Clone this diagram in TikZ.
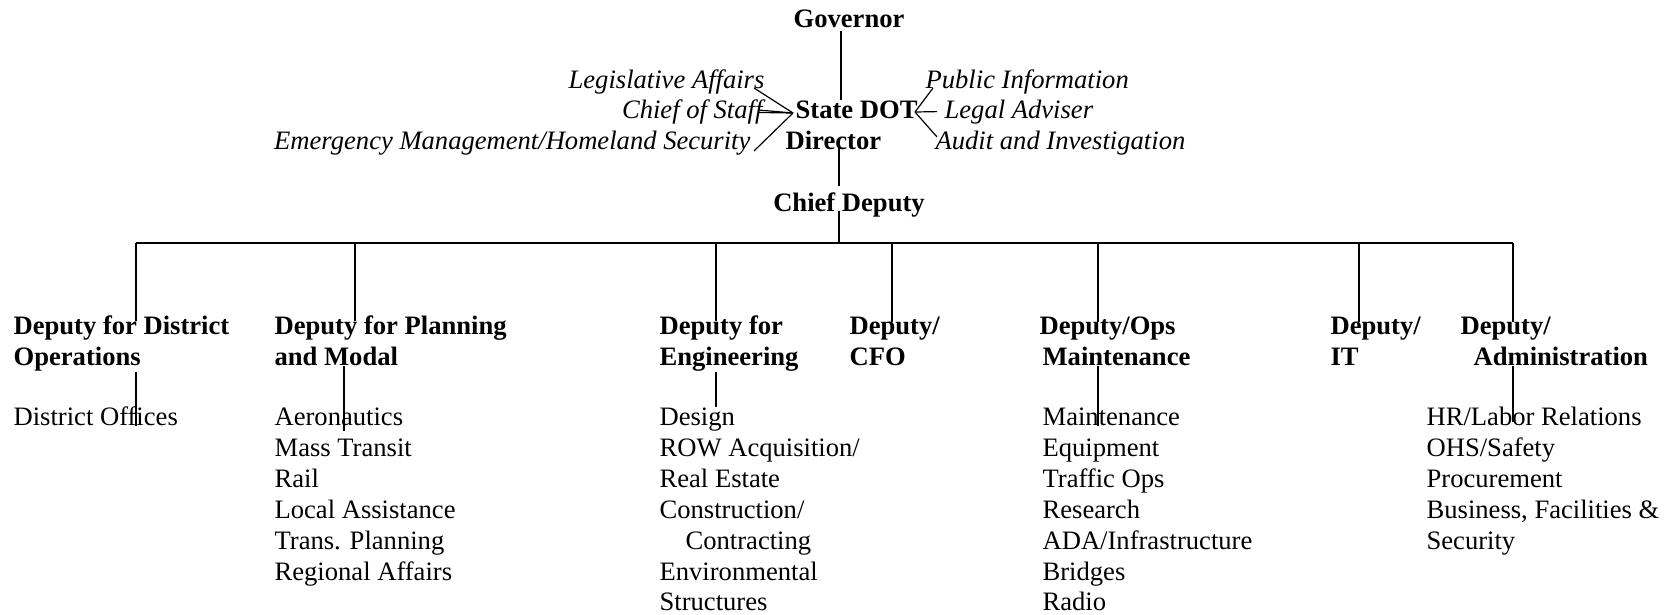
\documentclass[tikz,border=0pt]{standalone}
\usepackage{fontspec}
\setmainfont{Liberation Serif}
\newcommand{\chartfont}{\fontsize{26.6pt}{30.9pt}\selectfont}
\tikzstyle{head}=[font=\chartfont\bfseries,inner sep=0pt]
\tikzstyle{staff}=[font=\chartfont\itshape,inner sep=0pt]
\tikzstyle{deputy}=[font=\chartfont\bfseries,inner sep=0pt,align=left,anchor=base west]
\tikzstyle{unit}=[font=\chartfont,inner sep=0pt,align=left,anchor=base west]

\begin{document}
\begin{tikzpicture}[x=1pt,y=-1pt,line width=1.2pt]
			\useasboundingbox (0,0) rectangle (1671,614);
			% the director and his staff
			\node[head,anchor=base] (gov) at (849,27.5) {Governor};
			\node[head,anchor=base west] (dot) at (795,118) {State DOT};
			\node[head,anchor=base west] (dir) at (785,149) {Director};
			\node[head,anchor=base] (cdep) at (849,211) {Chief Deputy};
			\node[staff,anchor=base east] (leg) at (765,88) {Legislative Affairs};
			\node[staff,anchor=base east] (cos) at (763,118) {Chief of Staff};
			\node[staff,anchor=base east] (emg) at (751,149) {Emergency Management/Homeland Security};
			\node[staff,anchor=base west] (pub) at (925,88) {Public Information};
			\node[staff,anchor=base west] (lgl) at (944,118) {Legal Adviser};
			\node[staff,anchor=base west] (aud) at (935,149) {Audit and Investigation};
			\coordinate (lc) at (793,113);
			\coordinate (rc) at (915,112);
			\coordinate (cd) at (839,243);
			\draw[shorten <=3pt] ([xshift=-8pt]gov.south) -- ([xshift=-8pt]gov.south |- dot.north);
			\draw ([xshift=-11pt]leg.base east) -- (lc);
			\draw ([xshift=-5pt,yshift=1.5pt]cos.east) -- (lc);
			\draw ([xshift=-5pt,yshift=-1pt]cos.east) -- (lc);
			\draw ([xshift=3pt,yshift=-2pt]emg.base east) -- (lc);
			\draw ([xshift=8pt]pub.base west) -- (rc);
			\draw ([xshift=-7pt]lgl.west) -- (rc);
			\draw ([xshift=2pt,yshift=-7pt]aud.north west) -- (rc);
			\draw[shorten <=-6pt,shorten >=6pt] (dir.south -| cd) -- (cdep.north -| cd);
			\draw (cdep.base -| cd) -- (cd);
			% the deputies (base = last line)
			\coordinate (b1) at (136,243);
			\coordinate (b2) at (355,243);
			\coordinate (b3) at (716,243);
			\coordinate (b4) at (892,243);
			\coordinate (b5) at (1098,243);
			\coordinate (b6) at (1359,243);
			\coordinate (b7) at (1513,243);
			\coordinate (plow) at (344,370);
			\draw (b1) -- (b7);
			\node[deputy] (ddist) at (13,365.5) {Deputy for District\\Operations};
			\node[deputy] (dplan) at (274,365.5) {Deputy for Planning\\and Modal};
			\node[deputy] (deng) at (659,365.5) {Deputy for\\Engineering};
			\node[deputy] (dcfo) at (849,365.5) {Deputy/\\CFO};
			\node[deputy] (dops) at (1039,365.5) {Deputy/Ops\\\hspace*{3pt}Maintenance};
			\node[deputy] (dit) at (1330,365.5) {Deputy/\\IT};
			\node[deputy] (dadm) at (1460,365.5) {Deputy/\\\hspace*{13pt}Administration};
			\foreach \b/\d in {b1/ddist,b2/dplan,b3/deng,b4/dcfo,b5/dops,b6/dit,b7/dadm}
				\draw[shorten >=-6pt] (\b) -- (\b |- \d.north);
			% the offices under them
			\node[unit] (ldist) at (13,425.5) {District Offices};
			\node[unit] (lplan) at (274,580) {Aeronautics\\Mass Transit\\Rail\\Local Assistance\\Trans. Planning\\Regional Affairs};
			\node[unit] (leng) at (659,610.9) {Design\\ROW Acquisition/\\Real Estate\\Construction/\\\hspace*{26pt}Contracting\\Environmental\\Structures};
			\node[unit] (lops) at (1042,610.9) {Maintenance\\Equipment\\Traffic Ops\\Research\\ADA/Infrastructure\\Bridges\\Radio};
			\node[unit] (ladm) at (1426,549.1) {HR/Labor Relations\\OHS/Safety\\Procurement\\Business, Facilities \&\\Security};
			\draw[shorten >=-20pt] (b1 |- ddist.south) -- (b1 |- ldist.north);
			\draw[shorten >=-24pt] (plow |- dplan.south) -- (plow |- lplan.north);
			\draw (b3 |- deng.south) -- (b3 |- leng.north);
			\draw[shorten >=-19pt] (b5 |- dops.south) -- (b5 |- lops.north);
			\draw[shorten >=-16pt] (b7 |- dadm.south) -- (b7 |- ladm.north);
		\end{tikzpicture}
\end{document}
